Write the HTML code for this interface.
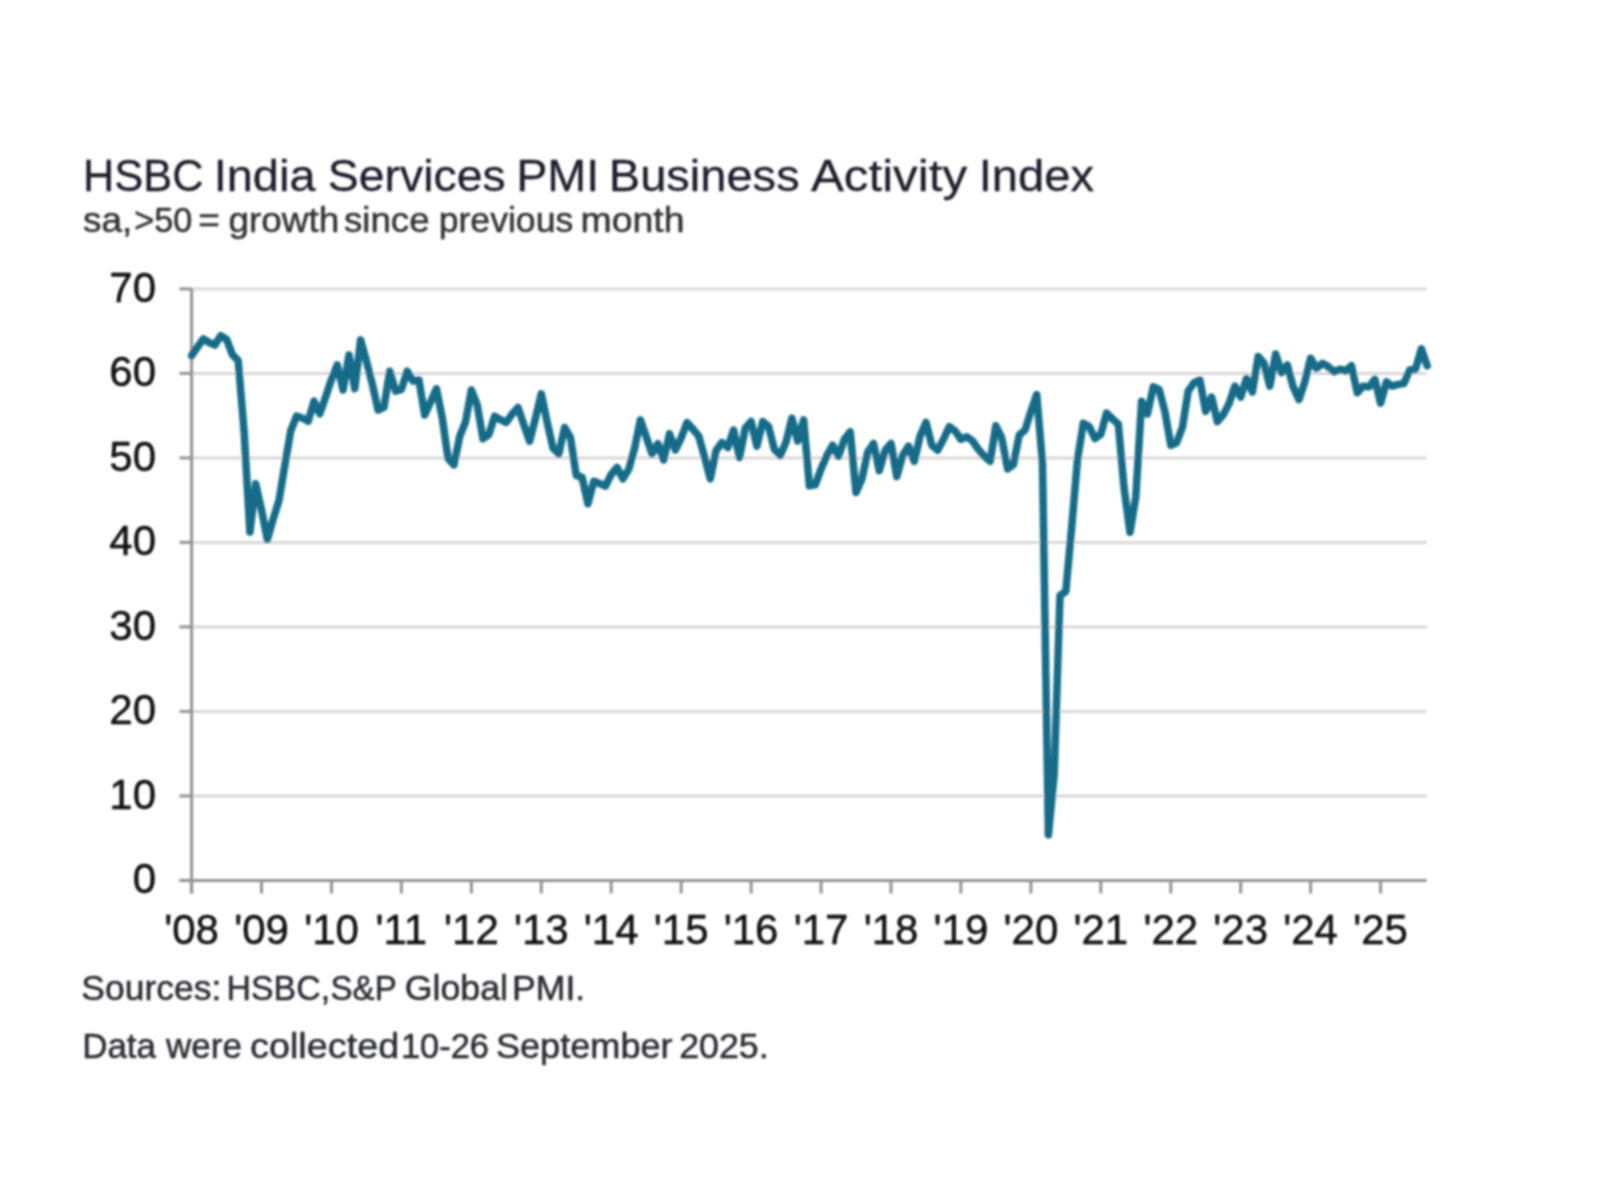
<!DOCTYPE html>
<html><head><meta charset="utf-8">
<style>
html,body{margin:0;padding:0;background:#fff;}
body{width:1600px;height:1200px;overflow:hidden;}
svg{display:block;}
text{font-family:"Liberation Sans",sans-serif;}
.ax{font-size:42px;fill:#080808;stroke:#080808;stroke-width:0.35px;}
</style></head><body>
<svg width="1600" height="1200" viewBox="0 0 1600 1200">
<defs><filter id="soft" x="0" y="0" width="1600" height="1200" filterUnits="userSpaceOnUse"><feGaussianBlur stdDeviation="0.8"/></filter></defs>
<rect width="1600" height="1200" fill="#ffffff"/>
<g filter="url(#soft)">
<text x="82.94" y="190.5" font-size="44" fill="#1e1e2a" textLength="120.73" lengthAdjust="spacingAndGlyphs" stroke="#1e1e2a" stroke-width="0.3">HSBC</text>
<text x="213.67" y="190.5" font-size="44" fill="#1e1e2a" textLength="101.95" lengthAdjust="spacingAndGlyphs" stroke="#1e1e2a" stroke-width="0.3">India</text>
<text x="327.87" y="190.5" font-size="44" fill="#1e1e2a" textLength="177.78" lengthAdjust="spacingAndGlyphs" stroke="#1e1e2a" stroke-width="0.3">Services</text>
<text x="516.17" y="190.5" font-size="44" fill="#1e1e2a" textLength="83.13" lengthAdjust="spacingAndGlyphs" stroke="#1e1e2a" stroke-width="0.3">PMI</text>
<text x="608.84" y="190.5" font-size="44" fill="#1e1e2a" textLength="190.83" lengthAdjust="spacingAndGlyphs" stroke="#1e1e2a" stroke-width="0.3">Business</text>
<text x="810.90" y="190.5" font-size="44" fill="#1e1e2a" textLength="156.20" lengthAdjust="spacingAndGlyphs" stroke="#1e1e2a" stroke-width="0.3">Activity</text>
<text x="978.66" y="190.5" font-size="44" fill="#1e1e2a" textLength="115.37" lengthAdjust="spacingAndGlyphs" stroke="#1e1e2a" stroke-width="0.3">Index</text>
<text x="82.96" y="231.5" font-size="34.5" fill="#333333" textLength="49.37" lengthAdjust="spacingAndGlyphs" stroke="#333333" stroke-width="0.5">sa,</text>
<text x="134.32" y="231.5" font-size="34.5" fill="#333333" textLength="58.02" lengthAdjust="spacingAndGlyphs" stroke="#333333" stroke-width="0.5">&gt;50</text>
<text x="198.19" y="231.5" font-size="34.5" fill="#333333" textLength="21.63" lengthAdjust="spacingAndGlyphs" stroke="#333333" stroke-width="0.5">=</text>
<text x="228.45" y="231.5" font-size="34.5" fill="#333333" textLength="110.97" lengthAdjust="spacingAndGlyphs" stroke="#333333" stroke-width="0.5">growth</text>
<text x="343.97" y="231.5" font-size="34.5" fill="#333333" textLength="85.66" lengthAdjust="spacingAndGlyphs" stroke="#333333" stroke-width="0.5">since</text>
<text x="438.72" y="231.5" font-size="34.5" fill="#333333" textLength="134.55" lengthAdjust="spacingAndGlyphs" stroke="#333333" stroke-width="0.5">previous</text>
<text x="580.53" y="231.5" font-size="34.5" fill="#333333" textLength="103.91" lengthAdjust="spacingAndGlyphs" stroke="#333333" stroke-width="0.5">month</text>
<line x1="191.6" y1="795.9" x2="1426.5" y2="795.9" stroke="#d8d8d8" stroke-width="3.0"/>
<line x1="191.6" y1="711.4" x2="1426.5" y2="711.4" stroke="#d8d8d8" stroke-width="3.0"/>
<line x1="191.6" y1="626.9" x2="1426.5" y2="626.9" stroke="#d8d8d8" stroke-width="3.0"/>
<line x1="191.6" y1="542.4" x2="1426.5" y2="542.4" stroke="#d8d8d8" stroke-width="3.0"/>
<line x1="191.6" y1="457.9" x2="1426.5" y2="457.9" stroke="#d8d8d8" stroke-width="3.0"/>
<line x1="191.6" y1="373.4" x2="1426.5" y2="373.4" stroke="#d8d8d8" stroke-width="3.0"/>
<line x1="191.6" y1="288.9" x2="1426.5" y2="288.9" stroke="#d8d8d8" stroke-width="3.0"/>

<line x1="191.6" y1="288.5" x2="191.6" y2="893.5" stroke="#939393" stroke-width="3.0"/>
<line x1="179.5" y1="880.4" x2="1426.5" y2="880.4" stroke="#939393" stroke-width="3.0"/>
<line x1="179.5" y1="880.4" x2="191.6" y2="880.4" stroke="#939393" stroke-width="3.0"/>
<text x="156" y="893.2" text-anchor="end" class="ax">0</text>
<line x1="179.5" y1="795.9" x2="191.6" y2="795.9" stroke="#939393" stroke-width="3.0"/>
<text x="156" y="808.7" text-anchor="end" class="ax">10</text>
<line x1="179.5" y1="711.4" x2="191.6" y2="711.4" stroke="#939393" stroke-width="3.0"/>
<text x="156" y="724.2" text-anchor="end" class="ax">20</text>
<line x1="179.5" y1="626.9" x2="191.6" y2="626.9" stroke="#939393" stroke-width="3.0"/>
<text x="156" y="639.7" text-anchor="end" class="ax">30</text>
<line x1="179.5" y1="542.4" x2="191.6" y2="542.4" stroke="#939393" stroke-width="3.0"/>
<text x="156" y="555.2" text-anchor="end" class="ax">40</text>
<line x1="179.5" y1="457.9" x2="191.6" y2="457.9" stroke="#939393" stroke-width="3.0"/>
<text x="156" y="470.7" text-anchor="end" class="ax">50</text>
<line x1="179.5" y1="373.4" x2="191.6" y2="373.4" stroke="#939393" stroke-width="3.0"/>
<text x="156" y="386.2" text-anchor="end" class="ax">60</text>
<line x1="179.5" y1="288.9" x2="191.6" y2="288.9" stroke="#939393" stroke-width="3.0"/>
<text x="156" y="301.7" text-anchor="end" class="ax">70</text>
<line x1="191.6" y1="880.4" x2="191.6" y2="893.5" stroke="#939393" stroke-width="3.0"/>
<text x="191.6" y="943.5" text-anchor="middle" class="ax">'08</text>
<line x1="261.5" y1="880.4" x2="261.5" y2="893.5" stroke="#939393" stroke-width="3.0"/>
<text x="261.5" y="943.5" text-anchor="middle" class="ax">'09</text>
<line x1="331.5" y1="880.4" x2="331.5" y2="893.5" stroke="#939393" stroke-width="3.0"/>
<text x="331.5" y="943.5" text-anchor="middle" class="ax">'10</text>
<line x1="401.4" y1="880.4" x2="401.4" y2="893.5" stroke="#939393" stroke-width="3.0"/>
<text x="401.4" y="943.5" text-anchor="middle" class="ax">'11</text>
<line x1="471.4" y1="880.4" x2="471.4" y2="893.5" stroke="#939393" stroke-width="3.0"/>
<text x="471.4" y="943.5" text-anchor="middle" class="ax">'12</text>
<line x1="541.3" y1="880.4" x2="541.3" y2="893.5" stroke="#939393" stroke-width="3.0"/>
<text x="541.3" y="943.5" text-anchor="middle" class="ax">'13</text>
<line x1="611.2" y1="880.4" x2="611.2" y2="893.5" stroke="#939393" stroke-width="3.0"/>
<text x="611.2" y="943.5" text-anchor="middle" class="ax">'14</text>
<line x1="681.2" y1="880.4" x2="681.2" y2="893.5" stroke="#939393" stroke-width="3.0"/>
<text x="681.2" y="943.5" text-anchor="middle" class="ax">'15</text>
<line x1="751.1" y1="880.4" x2="751.1" y2="893.5" stroke="#939393" stroke-width="3.0"/>
<text x="751.1" y="943.5" text-anchor="middle" class="ax">'16</text>
<line x1="821.1" y1="880.4" x2="821.1" y2="893.5" stroke="#939393" stroke-width="3.0"/>
<text x="821.1" y="943.5" text-anchor="middle" class="ax">'17</text>
<line x1="891.0" y1="880.4" x2="891.0" y2="893.5" stroke="#939393" stroke-width="3.0"/>
<text x="891.0" y="943.5" text-anchor="middle" class="ax">'18</text>
<line x1="960.9" y1="880.4" x2="960.9" y2="893.5" stroke="#939393" stroke-width="3.0"/>
<text x="960.9" y="943.5" text-anchor="middle" class="ax">'19</text>
<line x1="1030.9" y1="880.4" x2="1030.9" y2="893.5" stroke="#939393" stroke-width="3.0"/>
<text x="1030.9" y="943.5" text-anchor="middle" class="ax">'20</text>
<line x1="1100.8" y1="880.4" x2="1100.8" y2="893.5" stroke="#939393" stroke-width="3.0"/>
<text x="1100.8" y="943.5" text-anchor="middle" class="ax">'21</text>
<line x1="1170.8" y1="880.4" x2="1170.8" y2="893.5" stroke="#939393" stroke-width="3.0"/>
<text x="1170.8" y="943.5" text-anchor="middle" class="ax">'22</text>
<line x1="1240.7" y1="880.4" x2="1240.7" y2="893.5" stroke="#939393" stroke-width="3.0"/>
<text x="1240.7" y="943.5" text-anchor="middle" class="ax">'23</text>
<line x1="1310.6" y1="880.4" x2="1310.6" y2="893.5" stroke="#939393" stroke-width="3.0"/>
<text x="1310.6" y="943.5" text-anchor="middle" class="ax">'24</text>
<line x1="1380.6" y1="880.4" x2="1380.6" y2="893.5" stroke="#939393" stroke-width="3.0"/>
<text x="1380.6" y="943.5" text-anchor="middle" class="ax">'25</text>

<path d="M191.6,355.6 L197.4,347.1 L203.3,338.8 L209.1,342.5 L214.9,345.0 L220.7,335.6 L226.6,339.4 L232.4,354.7 L238.2,360.7 L244.1,431.2 L249.9,532.0 L255.7,483.8 L261.5,509.9 L267.4,539.4 L273.2,519.0 L279.0,500.4 L284.9,464.9 L290.7,431.2 L296.5,416.2 L302.3,418.0 L308.2,421.2 L314.0,401.2 L319.8,413.8 L325.7,396.8 L331.5,379.3 L337.3,365.0 L343.1,390.0 L349.0,355.0 L354.8,388.8 L360.6,340.0 L366.4,360.8 L372.3,384.1 L378.1,410.0 L383.9,407.4 L389.8,371.2 L395.6,391.2 L401.4,389.4 L407.2,371.2 L413.1,381.2 L418.9,380.0 L424.7,415.0 L430.6,402.0 L436.4,388.8 L442.2,417.4 L448.0,458.3 L453.9,465.0 L459.7,436.4 L465.5,422.0 L471.4,390.0 L477.2,404.8 L483.0,438.8 L488.8,434.7 L494.7,416.2 L500.5,419.7 L506.3,422.5 L512.2,413.9 L518.0,407.5 L523.8,424.6 L529.6,441.2 L535.5,418.1 L541.3,393.8 L547.1,421.8 L553.0,448.1 L558.8,453.8 L564.6,427.5 L570.4,437.3 L576.3,475.4 L582.1,477.4 L587.9,503.8 L593.8,481.2 L599.6,483.5 L605.4,486.2 L611.2,474.5 L617.1,467.5 L622.9,478.8 L628.7,469.4 L634.6,448.3 L640.4,420.0 L646.2,436.7 L652.0,453.8 L657.9,443.8 L663.7,460.0 L669.5,433.8 L675.4,450.0 L681.2,437.9 L687.0,422.5 L692.8,429.0 L698.7,436.1 L704.5,456.8 L710.3,478.8 L716.1,450.5 L722.0,442.5 L727.8,447.5 L733.6,430.0 L739.5,457.5 L745.3,428.1 L751.1,421.6 L756.9,446.1 L762.8,421.6 L768.6,426.6 L774.4,449.4 L780.3,455.4 L786.1,441.8 L791.9,418.2 L797.7,441.0 L803.6,419.9 L809.4,485.8 L815.2,484.9 L821.1,468.9 L826.9,455.4 L832.7,445.2 L838.5,456.2 L844.4,439.3 L850.2,431.7 L856.0,492.5 L861.9,479.0 L867.7,452.0 L873.5,443.5 L879.3,470.6 L885.2,450.3 L891.0,443.5 L896.8,476.5 L902.7,455.4 L908.5,446.1 L914.3,461.3 L920.1,435.9 L926.0,422.4 L931.8,445.2 L937.6,450.3 L943.5,439.3 L949.3,426.6 L955.1,430.9 L960.9,439.3 L966.8,436.8 L972.6,441.0 L978.4,449.4 L984.3,456.2 L990.1,461.3 L995.9,425.8 L1001.7,437.6 L1007.6,468.9 L1013.4,464.7 L1019.2,435.1 L1025.1,430.0 L1030.9,411.4 L1036.7,394.5 L1042.5,463.8 L1048.4,834.8 L1054.2,773.9 L1060.0,595.6 L1065.8,591.4 L1071.7,527.2 L1077.5,459.6 L1083.3,423.3 L1089.2,426.6 L1095.0,438.5 L1100.8,434.2 L1106.6,413.1 L1112.5,419.0 L1118.3,424.1 L1124.1,488.3 L1130.0,532.3 L1135.8,496.8 L1141.6,401.3 L1147.4,414.0 L1153.3,386.9 L1159.1,389.5 L1164.9,411.4 L1170.8,445.2 L1176.6,442.7 L1182.4,427.5 L1188.2,391.1 L1194.1,382.7 L1199.9,380.2 L1205.7,411.4 L1211.6,397.1 L1217.4,421.6 L1223.2,414.8 L1229.0,403.8 L1234.9,386.1 L1240.7,397.1 L1246.5,378.5 L1252.4,392.0 L1258.2,356.5 L1264.0,363.3 L1269.8,386.1 L1275.7,354.0 L1281.5,372.6 L1287.3,365.0 L1293.2,386.9 L1299.0,399.6 L1304.8,381.9 L1310.6,358.2 L1316.5,368.3 L1322.3,363.3 L1328.1,366.6 L1334.0,371.7 L1339.8,369.2 L1345.6,370.9 L1351.4,365.8 L1357.3,392.8 L1363.1,386.1 L1368.9,386.9 L1374.8,379.3 L1380.6,403.0 L1386.4,381.9 L1392.2,386.1 L1398.1,384.4 L1403.9,383.5 L1409.7,370.0 L1415.5,369.2 L1421.4,348.9 L1427.2,365.8" fill="none" stroke="#126c88" stroke-width="7.5" stroke-linejoin="round" stroke-linecap="round"/>
<text x="81.37" y="1000.2" font-size="35.5" fill="#2a2b33" textLength="139.87" lengthAdjust="spacingAndGlyphs" stroke="#2a2b33" stroke-width="0.5">Sources:</text>
<text x="226.62" y="1000.2" font-size="35.5" fill="#2a2b33" textLength="103.43" lengthAdjust="spacingAndGlyphs" stroke="#2a2b33" stroke-width="0.5">HSBC,</text>
<text x="330.48" y="1000.2" font-size="35.5" fill="#2a2b33" textLength="66.28" lengthAdjust="spacingAndGlyphs" stroke="#2a2b33" stroke-width="0.5">S&amp;P</text>
<text x="404.71" y="1000.2" font-size="35.5" fill="#2a2b33" textLength="103.30" lengthAdjust="spacingAndGlyphs" stroke="#2a2b33" stroke-width="0.5">Global</text>
<text x="512.08" y="1000.2" font-size="35.5" fill="#2a2b33" textLength="73.14" lengthAdjust="spacingAndGlyphs" stroke="#2a2b33" stroke-width="0.5">PMI.</text>
<text x="82.13" y="1057.5" font-size="35.5" fill="#2a2b33" textLength="73.88" lengthAdjust="spacingAndGlyphs" stroke="#2a2b33" stroke-width="0.5">Data</text>
<text x="166.04" y="1057.5" font-size="35.5" fill="#2a2b33" textLength="75.92" lengthAdjust="spacingAndGlyphs" stroke="#2a2b33" stroke-width="0.5">were</text>
<text x="250.01" y="1057.5" font-size="35.5" fill="#2a2b33" textLength="149.20" lengthAdjust="spacingAndGlyphs" stroke="#2a2b33" stroke-width="0.5">collected</text>
<text x="400.88" y="1057.5" font-size="35.5" fill="#2a2b33" textLength="88.16" lengthAdjust="spacingAndGlyphs" stroke="#2a2b33" stroke-width="0.5">10-26</text>
<text x="495.94" y="1057.5" font-size="35.5" fill="#2a2b33" textLength="176.66" lengthAdjust="spacingAndGlyphs" stroke="#2a2b33" stroke-width="0.5">September</text>
<text x="679.21" y="1057.5" font-size="35.5" fill="#2a2b33" textLength="89.42" lengthAdjust="spacingAndGlyphs" stroke="#2a2b33" stroke-width="0.5">2025.</text>
</g>
</svg>
</body></html>
